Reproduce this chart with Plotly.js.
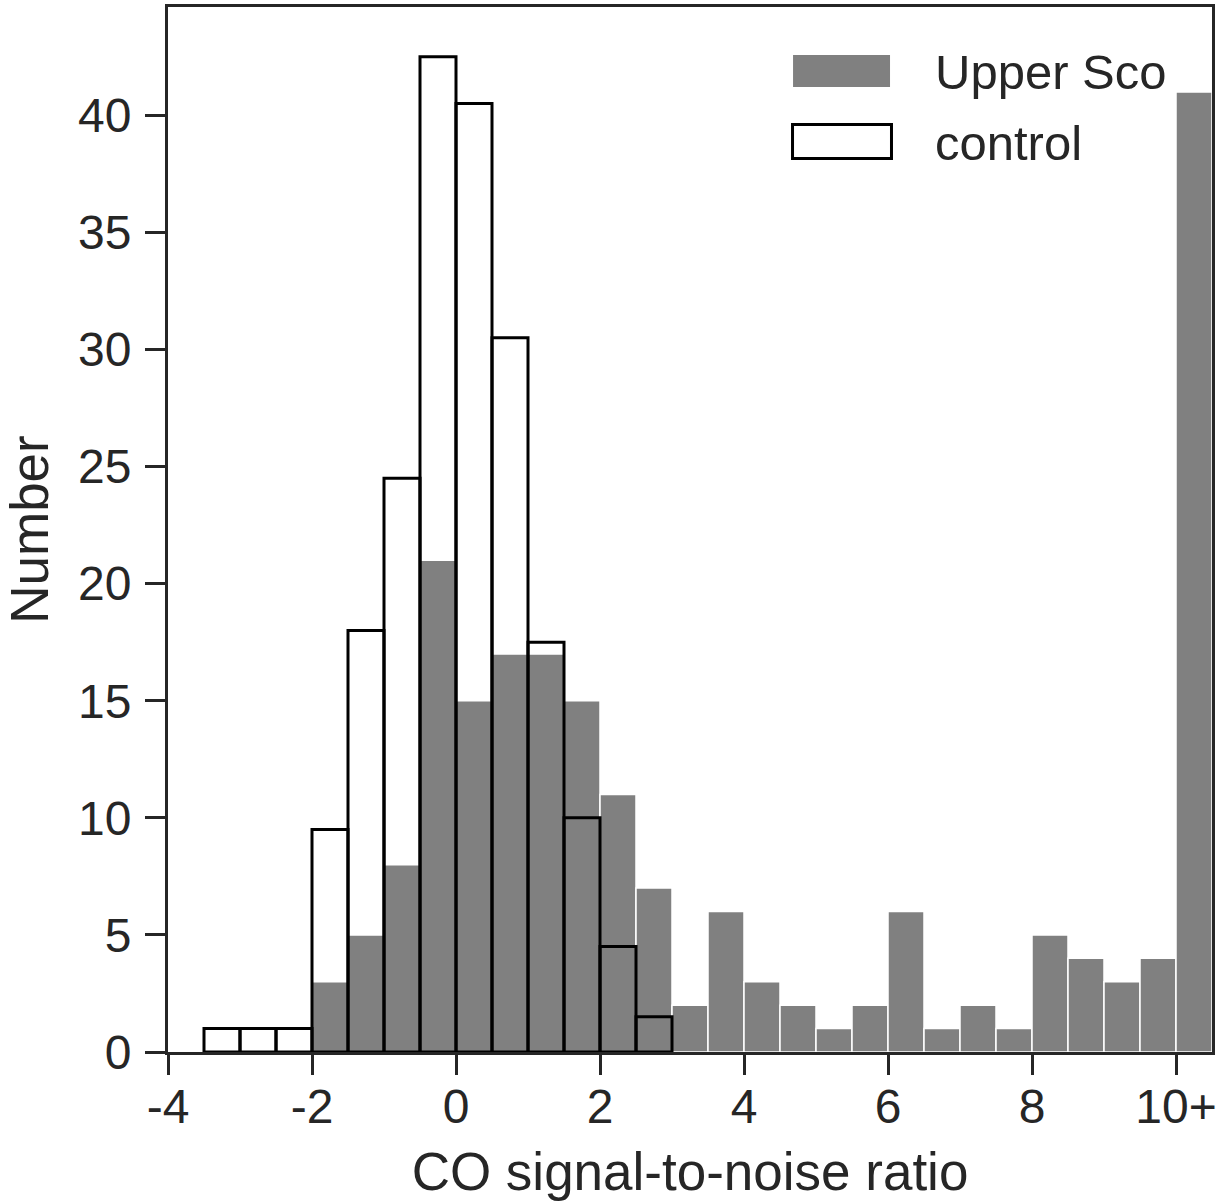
<!DOCTYPE html>
<html>
<head>
<meta charset="utf-8">
<script src="https://cdn.plot.ly/plotly-3.0.1.min.js"></script>
<style>html,body{margin:0;padding:0;background:#fff;}#chart{width:1224px;height:1201px;}</style>
</head>
<body>
<div id="chart"></div>
<script>
// Bin centres (bin width 0.5)
const usBinCenters = [-1.75,-1.25,-0.75,-0.25,0.25,0.75,1.25,1.75,2.25,2.75,3.25,3.75,4.25,4.75,5.25,5.75,6.25,6.75,7.25,7.75,8.25,8.75,9.25,9.75,10.25];
const usCounts     = [3,5,8,21,15,17,17,15,11,7,2,6,3,2,1,2,6,1,2,1,5,4,3,4,41];
const ctrlBinCenters = [-3.25,-2.75,-2.25,-1.75,-1.25,-0.75,-0.25,0.25,0.75,1.25,1.75,2.25,2.75];
const ctrlCounts     = [1,1,1,9.5,18,24.5,42.5,40.5,30.5,17.5,10,4.5,1.5];
const xTickVals = [-4,-2,0,2,4,6,8,10];
const xTickText = ['-4','-2','0','2','4','6','8','10+'];
const yTickVals = [0,5,10,15,20,25,30,35,40];
const seriesNames = ['Upper Sco','control'];
const binWidth = 0.5;

const txt = '#262626';
const fam = 'Liberation Sans, Arial, Helvetica, sans-serif';

const traces = [
  {
    type:'bar', name: seriesNames[0], x: usBinCenters, y: usCounts,
    width: usBinCenters.map(()=>binWidth),
    marker:{color:'#808080', line:{color:'#ffffff', width:1.5}},
    showlegend:false, hoverinfo:'x+y'
  },
  {
    type:'bar', name: seriesNames[1], x: ctrlBinCenters, y: ctrlCounts,
    width: ctrlBinCenters.map(()=>binWidth),
    marker:{color:'rgba(0,0,0,0)', line:{color:'#000000', width:3}},
    showlegend:false, hoverinfo:'x+y'
  }
];

const layout = {
  width:1224, height:1201,
  margin:{l:168, r:12, t:7, b:149},
  paper_bgcolor:'#ffffff', plot_bgcolor:'#ffffff',
  barmode:'overlay', bargap:0,
  font:{family:fam, color:txt, size:48},
  xaxis:{
    range:[-4,10.5], showgrid:false, zeroline:false,
    showline:true, mirror:true, linecolor:txt, linewidth:3,
    ticks:'outside', ticklen:20, tickwidth:3, tickcolor:txt,
    tickvals:xTickVals, ticktext:xTickText,
    tickfont:{size:48, color:txt, family:fam},
    ticklabelstandoff:-10,
    title:{text:'CO signal-to-noise ratio', font:{size:53, color:txt, family:fam}, standoff:26}
  },
  yaxis:{
    range:[0,44.625], showgrid:false, zeroline:false,
    showline:true, mirror:true, linecolor:txt, linewidth:3,
    ticks:'outside', ticklen:20, tickwidth:3, tickcolor:txt,
    tickvals:yTickVals,
    tickfont:{size:48, color:txt, family:fam},
    ticklabelstandoff:4,
    title:{text:'Number', font:{size:53, color:txt, family:fam}, standoff:21}
  },
  shapes:[
    {type:'rect', xref:'paper', yref:'paper', x0:0.5987, x1:0.6916, y0:0.9234, y1:0.9541,
     fillcolor:'#808080', line:{width:0}},
    {type:'rect', xref:'paper', yref:'paper', x0:0.5982, x1:0.6930, y0:0.8550, y1:0.8876,
     fillcolor:'#ffffff', line:{color:'#000000', width:3}}
  ],
  annotations:[
    {xref:'paper', yref:'paper', x:0.7328, y:0.9378, xanchor:'left', yanchor:'middle',
     text:seriesNames[0], showarrow:false, font:{size:49, color:txt, family:fam}},
    {xref:'paper', yref:'paper', x:0.7328, y:0.8699, xanchor:'left', yanchor:'middle',
     text:seriesNames[1], showarrow:false, font:{size:49, color:txt, family:fam}}
  ]
};

Plotly.newPlot('chart', traces, layout, {displayModeBar:false, staticPlot:true});
</script>
</body>
</html>
